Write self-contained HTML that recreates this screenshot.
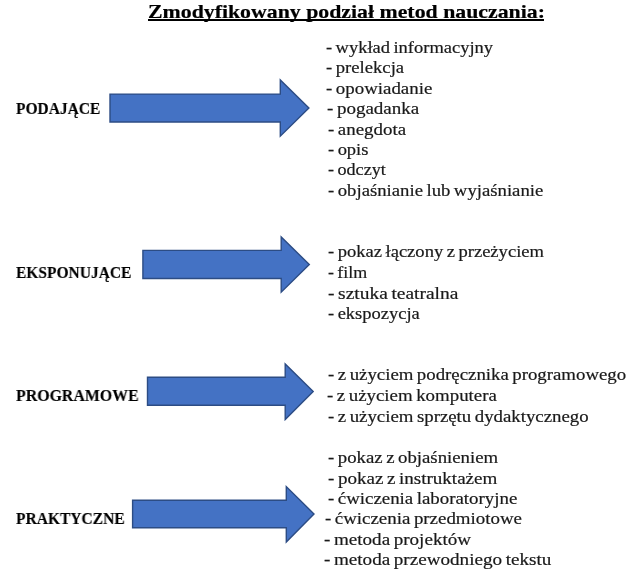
<!DOCTYPE html>
<html><head><meta charset="utf-8"><style>
html,body{margin:0;padding:0;background:#fff;width:640px;height:572px;overflow:hidden;position:relative}
div{position:absolute;white-space:pre;font-family:"Liberation Serif",serif;transform-origin:0 0;color:#1a1a1a;will-change:transform}
.t{font-size:19px;line-height:38px;font-weight:bold;color:#000;-webkit-text-stroke:0.2px #000}
.lb{font-size:17px;line-height:34px;font-weight:bold;color:#000;-webkit-text-stroke:0.15px #000}
.it{font-size:16px;line-height:32px;-webkit-text-stroke:0.2px #1a1a1a;word-spacing:-1px}
</style></head><body>
<svg width="640" height="572" style="position:absolute;left:0;top:0"><polygon points="110,94.1 280.3,94.1 280.3,80.0 308.9,108.0 280.3,136.2 280.3,122 110,122" fill="#4472C4" stroke="#2C4C84" stroke-width="1.4" stroke-linejoin="miter"/><polygon points="142.9,250.4 281.2,250.4 281.2,237.0 309.3,264.5 281.2,292.2 281.2,278.5 142.9,278.5" fill="#4472C4" stroke="#2C4C84" stroke-width="1.4" stroke-linejoin="miter"/><polygon points="147.5,377.3 285.2,377.3 285.2,364.0 313.2,391.6 285.2,419.5 285.2,405.3 147.5,405.3" fill="#4472C4" stroke="#2C4C84" stroke-width="1.4" stroke-linejoin="miter"/><polygon points="132.6,500.2 286.3,500.2 286.3,486.6 314.0,514.0 286.3,542.0 286.3,527.7 132.6,527.7" fill="#4472C4" stroke="#2C4C84" stroke-width="1.4" stroke-linejoin="miter"/></svg>
<div class="t" style="left:147.8px;top:-7.4px;transform:scaleX(1.1481)">Zmodyfikowany podział metod nauczania:</div>
<div style="left:148.4px;top:18.9px;width:396.2px;height:1.9px;background:#000"></div>
<div class="lb" style="left:16.1px;top:91.7px;transform:scaleX(0.9099)">PODAJĄCE</div>
<div class="lb" style="left:16.2px;top:255.8px;transform:scaleX(0.9112)">EKSPONUJĄCE</div>
<div class="lb" style="left:15.7px;top:378.9px;transform:scaleX(0.9338)">PROGRAMOWE</div>
<div class="lb" style="left:16.2px;top:502.3px;transform:scaleX(0.9120)">PRAKTYCZNE</div>
<div class="it" style="left:325.8px;top:31.9px;transform:scaleX(1.1549)">- wykład informacyjny</div>
<div class="it" style="left:325.8px;top:51.5px;transform:scaleX(1.1667)">- prelekcja</div>
<div class="it" style="left:325.8px;top:72.7px;transform:scaleX(1.1798)">- opowiadanie</div>
<div class="it" style="left:326.8px;top:92.8px;transform:scaleX(1.1882)">- pogadanka</div>
<div class="it" style="left:327.5px;top:113.7px;transform:scaleX(1.1815)">- anegdota</div>
<div class="it" style="left:327.8px;top:134.2px;transform:scaleX(1.1559)">- opis</div>
<div class="it" style="left:327.9px;top:154.3px;transform:scaleX(1.1340)">- odczyt</div>
<div class="it" style="left:327.8px;top:174.6px;transform:scaleX(1.1694)">- objaśnianie lub wyjaśnianie</div>
<div class="it" style="left:327.5px;top:236.0px;transform:scaleX(1.1605)">- pokaz łączony z przeżyciem</div>
<div class="it" style="left:327.6px;top:257.0px;transform:scaleX(1.1212)">- film</div>
<div class="it" style="left:327.5px;top:277.8px;transform:scaleX(1.2151)">- sztuka teatralna</div>
<div class="it" style="left:327.5px;top:298.0px;transform:scaleX(1.1564)">- ekspozycja</div>
<div class="it" style="left:327.6px;top:359.2px;transform:scaleX(1.1752)">- z użyciem podręcznika programowego</div>
<div class="it" style="left:326.8px;top:379.6px;transform:scaleX(1.1790)">- z użyciem komputera</div>
<div class="it" style="left:327.6px;top:400.9px;transform:scaleX(1.1757)">- z użyciem sprzętu dydaktycznego</div>
<div class="it" style="left:327.7px;top:441.7px;transform:scaleX(1.1741)">- pokaz z objaśnieniem</div>
<div class="it" style="left:327.7px;top:462.5px;transform:scaleX(1.1901)">- pokaz z instruktażem</div>
<div class="it" style="left:327.8px;top:482.5px;transform:scaleX(1.1786)">- ćwiczenia laboratoryjne</div>
<div class="it" style="left:325.3px;top:503.3px;transform:scaleX(1.1806)">- ćwiczenia przedmiotowe</div>
<div class="it" style="left:323.8px;top:523.8px;transform:scaleX(1.1926)">- metoda projektów</div>
<div class="it" style="left:323.8px;top:543.7px;transform:scaleX(1.1947)">- metoda przewodniego tekstu</div>
</body></html>
